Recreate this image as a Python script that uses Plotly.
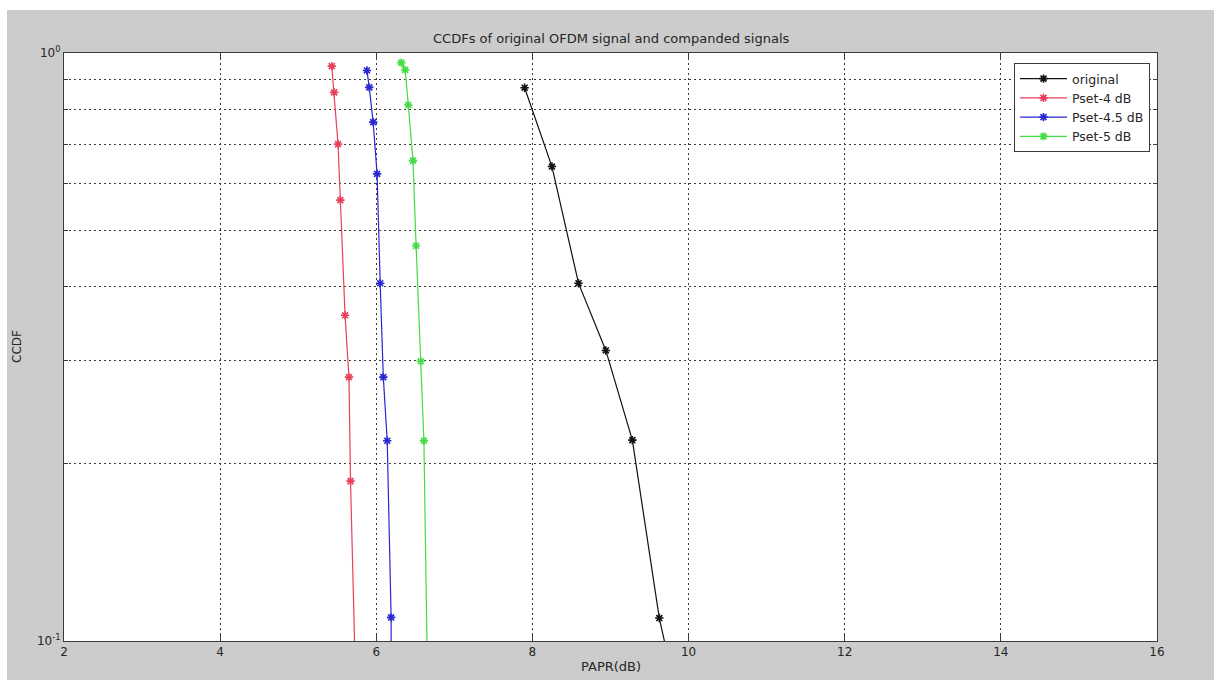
import plotly.graph_objects as go

# PAPR (dB) and CCDF values of each curve
papr_original = [7.90, 8.25, 8.59, 8.94, 9.28, 9.625, 9.90]
ccdf_original = [0.873, 0.641, 0.406, 0.312, 0.2196, 0.1094, 0.075]

papr_pset4 = [5.43, 5.46, 5.51, 5.54, 5.60, 5.65, 5.67, 5.74]
ccdf_pset4 = [0.950, 0.857, 0.700, 0.562, 0.358, 0.281, 0.187, 0.080]

papr_pset45 = [5.88, 5.91, 5.96, 6.01, 6.05, 6.09, 6.14, 6.19, 6.19]
ccdf_pset45 = [0.934, 0.874, 0.763, 0.623, 0.406, 0.281, 0.219, 0.1097, 0.085]

papr_pset5 = [6.32, 6.37, 6.41, 6.47, 6.51, 6.57, 6.61, 6.66]
ccdf_pset5 = [0.963, 0.936, 0.816, 0.656, 0.470, 0.299, 0.219, 0.080]

series_names = ["original", "Pset-4 dB", "Pset-4.5 dB", "Pset-5 dB"]
series_colors = ["#111111", "#e8405a", "#2828d0", "#44dc44"]

x_ticks = [2, 4, 6, 8, 10, 12, 14, 16]
y_major = [0.1, 1.0]
y_major_text = ["10<sup>-1</sup>", "10<sup>0</sup>"]
y_minor = [0.2, 0.3, 0.4, 0.5, 0.6, 0.7, 0.8, 0.9]

FONT = "DejaVu Sans, Arial, sans-serif"
TXT = "#262626"
AX = "#3a3a3a"
W, H = 1214, 680
L, R, T, B = 64, 57, 53, 39
pw, ph = W - L - R, H - T - B

fig = go.Figure()
for xs, ys, name, col in zip(
    [papr_original, papr_pset4, papr_pset45, papr_pset5],
    [ccdf_original, ccdf_pset4, ccdf_pset45, ccdf_pset5],
    series_names, series_colors,
):
    fig.add_trace(go.Scatter(
        x=xs, y=ys, name=name, mode="lines+markers",
        line=dict(color=col, width=1.2),
        marker=dict(symbol="asterisk", size=7, color=col,
                    line=dict(color=col, width=1.6)),
    ))

axis_common = dict(
    showline=True, linecolor=AX, linewidth=1, mirror="ticks",
    ticks="inside", ticklen=6, tickcolor=AX, tickwidth=1,
    showgrid=True, gridcolor=AX, gridwidth=1, griddash="2px,3px",
    zeroline=False, tickfont=dict(family=FONT, size=12, color=TXT),
)

fig.update_xaxes(range=[2, 16], tickvals=x_ticks, **axis_common)
fig.update_yaxes(
    type="log", range=[-1, 0], tickvals=y_major, ticktext=y_major_text,
    minor=dict(tickvals=y_minor, ticks="inside", ticklen=4, tickcolor=AX,
               showgrid=True, gridcolor=AX, gridwidth=1, griddash="2px,3px"),
    **axis_common,
)

def px_x(p):
    return (p - L) / pw

def px_y(p):
    return (H - B - p) / ph

# white frame strips at top and left of the grey figure area
shapes = [
    dict(type="rect", xref="paper", yref="paper", x0=px_x(-5), x1=px_x(W + 5),
         y0=px_y(10), y1=px_y(-5), fillcolor="white", line=dict(width=0), layer="below"),
    dict(type="rect", xref="paper", yref="paper", x0=px_x(-5), x1=px_x(7),
         y0=px_y(H + 5), y1=px_y(-5), fillcolor="white", line=dict(width=0), layer="below"),
]

annotations = [
    dict(text="CCDFs of original OFDM signal and companded signals",
         xref="paper", yref="paper", x=0.5, y=px_y(38), xanchor="center",
         yanchor="middle", showarrow=False, font=dict(family=FONT, size=13, color=TXT)),
    dict(text="PAPR(dB)", xref="paper", yref="paper", x=0.5, y=px_y(666),
         xanchor="center", yanchor="middle", showarrow=False,
         font=dict(family=FONT, size=13, color=TXT)),
    dict(text="CCDF", xref="paper", yref="paper", x=px_x(17), y=px_y(347),
         xanchor="center", yanchor="middle", textangle=-90, showarrow=False,
         font=dict(family=FONT, size=12, color=TXT)),
]

fig.update_layout(
    width=W, height=H,
    margin=dict(l=L, r=R, t=T, b=B),
    paper_bgcolor="#cccccc", plot_bgcolor="white",
    font=dict(family=FONT, size=12, color=TXT),
    shapes=shapes, annotations=annotations,
    legend=dict(
        x=px_x(1150), y=px_y(63), xanchor="right", yanchor="top",
        bgcolor="white", bordercolor=AX, borderwidth=1,
        font=dict(family=FONT, size=12.5, color=TXT),
        tracegroupgap=0, itemwidth=47,
    ),
    showlegend=True,
)

fig.write_html("out.html")
